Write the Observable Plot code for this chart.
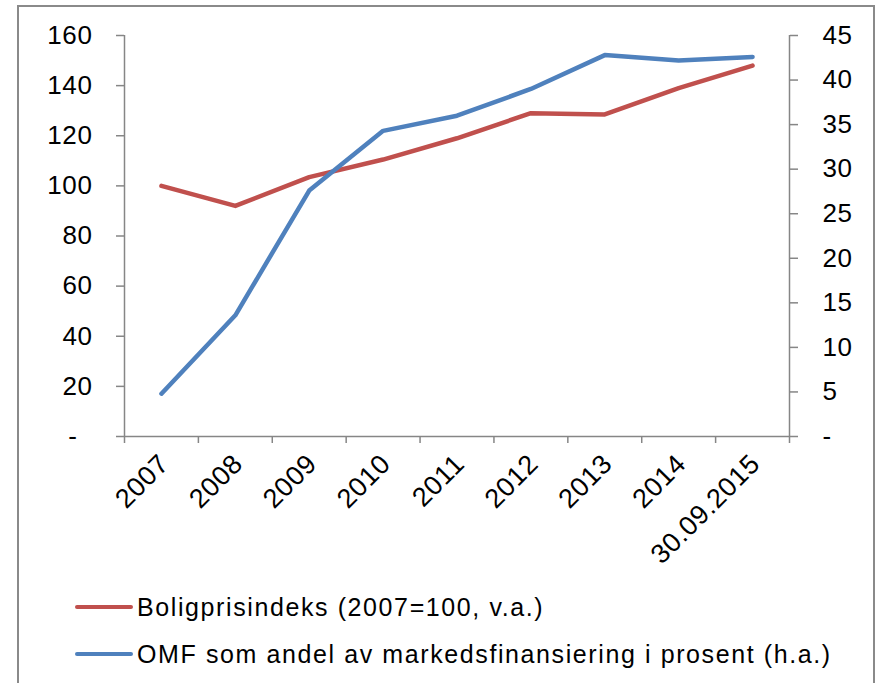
<!DOCTYPE html>
<html>
<head>
<meta charset="utf-8">
<script src="https://cdn.jsdelivr.net/npm/d3@7"></script>
<script src="https://cdn.jsdelivr.net/npm/@observablehq/plot@0.6"></script>
<style>
  html, body { margin: 0; padding: 0; background: #fff; overflow: hidden; }
  #wrap { position: relative; width: 878px; height: 683px; font-family: "Liberation Sans", Arial, sans-serif; }
  #frame { position: absolute; left: 17px; top: 5px; width: 858px; height: 700px; border: 2px solid #8a8a8a; border-bottom: none; box-sizing: border-box; }
  #chart { position: absolute; left: 0; top: 0; }
  #legend { position: absolute; left: 75px; top: 590px; font-size: 25px; letter-spacing: 1.6px; color: #000; }
  .row { display: flex; align-items: center; height: 34px; margin-bottom: 13px; }
  .swatch { width: 58px; height: 4.5px; border-radius: 2px; margin-right: 4px; }
</style>
</head>
<body>
<div id="wrap">
  <div id="frame"></div>
  <div id="chart"></div>
  <div id="legend"></div>
</div>
<script>
// Categories on the x axis
const periods = ["2007", "2008", "2009", "2010", "2011", "2012", "2013", "2014", "30.09.2015"];
// House price index, 2007 = 100 (left axis)
const boligprisindeks = [100, 92, 103.5, 110.5, 119, 129, 128.5, 139, 148];
// Covered bonds (OMF) as share of market funding, percent (right axis)
const omfAndel = [4.8, 13.6, 27.6, 34.3, 36.0, 39.0, 42.8, 42.2, 42.6];
// Axis ticks
const leftTicks = [0, 20, 40, 60, 80, 100, 120, 140, 160];
const rightTicks = [0, 5, 10, 15, 20, 25, 30, 35, 40, 45];
// Series names and colours
const seriesNames = ["Boligprisindeks (2007=100, v.a.)", "OMF som andel av markedsfinansiering i prosent (h.a.)"];
const seriesColors = ["#C0504D", "#4F81BD"];

const leftMax = 160, rightMax = 45;
const toLeft = v => v * leftMax / rightMax;
const axisGray = "#868686";
const mid = (d, i) => i + 0.5;          // band centre for category i
const bounds = d3.range(periods.length + 1); // band edges

const chart = Plot.plot({
  width: 878,
  height: 575,
  marginLeft: 124,
  marginRight: 89,
  marginTop: 35,
  marginBottom: 139,
  style: { fontFamily: "'Liberation Sans', Arial, sans-serif", fontSize: "26px", letterSpacing: "0.6px", background: "transparent" },
  x: { domain: [0, periods.length], axis: null },
  y: { domain: [0, leftMax], axis: null },
  marks: [
    Plot.ruleX([0, periods.length], { stroke: axisGray, strokeWidth: 1.5 }),
    Plot.ruleY([0], { stroke: axisGray, strokeWidth: 1.5 }),
    Plot.axisY({
      anchor: "left", ticks: leftTicks, tickSize: 8, tickPadding: 24,
      stroke: axisGray, strokeWidth: 1.5, fill: "#000", label: null,
      tickFormat: d => d === 0 ? "-\u2007" : String(d)
    }),
    Plot.axisY({
      anchor: "right", ticks: rightTicks.map(toLeft), tickSize: 8, tickPadding: 25,
      stroke: axisGray, strokeWidth: 1.5, fill: "#000", label: null,
      tickFormat: d => { const v = Math.round(d * rightMax / leftMax); return v === 0 ? "-" : String(v); }
    }),
    Plot.axisX({
      anchor: "bottom", ticks: bounds, tickSize: 7, stroke: axisGray, strokeWidth: 1.5,
      tickFormat: () => "", label: null
    }),
    Plot.text(periods, {
      x: mid, frameAnchor: "bottom", text: d => d, rotate: -45,
      textAnchor: "end", dx: 9, dy: 29, fill: "#000", fontSize: 27
    }),
    Plot.lineY(boligprisindeks, {
      x: mid, y: d => d, stroke: seriesColors[0], strokeWidth: 4.5,
      strokeLinejoin: "round", strokeLinecap: "round"
    }),
    Plot.lineY(omfAndel, {
      x: mid, y: d => toLeft(d), stroke: seriesColors[1], strokeWidth: 4.5,
      strokeLinejoin: "round", strokeLinecap: "round"
    })
  ]
});
document.getElementById("chart").appendChild(chart);

const legend = d3.select("#legend");
seriesNames.forEach((name, i) => {
  const row = legend.append("div").attr("class", "row");
  row.append("div").attr("class", "swatch").style("background", seriesColors[i]);
  row.append("span").text(name);
});
</script>
</body>
</html>
